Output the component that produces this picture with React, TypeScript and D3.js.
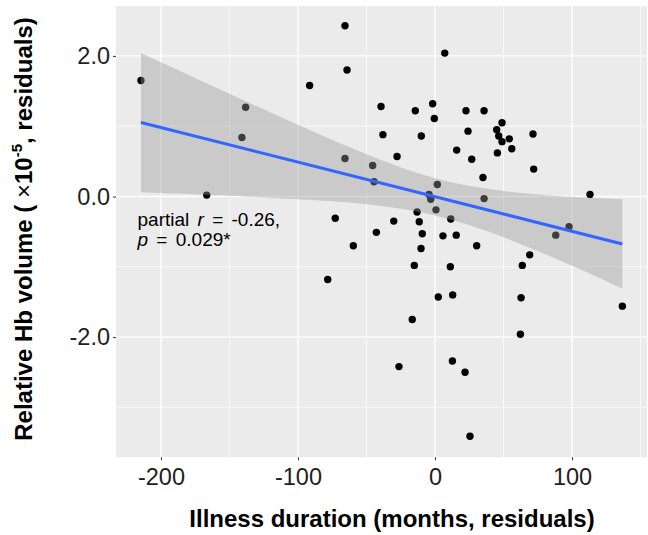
import React, { useEffect, useRef } from "react"
import * as d3 from "d3"

// illness duration residuals (months) and Hb volume residuals (x10^-5)
const durations = [
  -214.6, -138.2, -140.9, -166.6, -65.7, 7.1, -64.2, -91.5, -39.4, -14.4,
  -1.7, -0.5, -38.0, -10.0, 15.8, -65.7, -27.7, -45.5, -44.5, 1.7,
  -4.4, -3.1, -13.1, 0.7, 11.5, -72.8, -30.1, -11.5, -42.8, -9.3,
  5.8, 15.5, 22.6, 35.8, 48.9, 24.1, 45.0, 46.5, 48.9, 54.2,
  56.0, 45.5, 71.5, 26.8, 35.0, 72.0, 113.1, 35.8, 97.8, 88.1,
  -59.6, -10.2, -15.1, 11.2, -78.3, 2.4, 12.9, -16.6, 12.7, -26.3,
  30.4, 69.1, 63.7, 62.8, 136.7, 62.3, 21.9, 25.5,
]
const volumes = [
  1.65, 1.27, 0.84, 0.02, 2.43, 2.04, 1.8, 1.58, 1.28, 1.22,
  1.32, 1.11, 0.88, 0.86, 0.66, 0.54, 0.57, 0.44, 0.21, 0.17,
  0.03, -0.04, -0.22, -0.19, -0.32, -0.31, -0.35, -0.36, -0.51, -0.53,
  -0.56, -0.55, 1.22, 1.22, 1.05, 0.93, 0.95, 0.86, 0.78, 0.82,
  0.68, 0.62, 0.89, 0.53, 0.27, 0.39, 0.03, -0.03, -0.43, -0.55,
  -0.7, -0.74, -0.98, -1.0, -1.18, -1.43, -1.4, -1.75, -2.34, -2.42,
  -0.7, -0.83, -0.98, -1.44, -1.56, -1.96, -2.5, -3.41,
]

// fitted line and confidence band
const fitX = [-214.6, 136.7]
const fitY = [1.053, -0.675]
const bandX = [-214.6, -150, -100, -50, 0, 50, 100, 136.7]
const bandLower = [0.06, 0.01, -0.04, -0.11, -0.27, -0.58, -0.985, -1.31]
const bandUpper = [2.04, 1.46, 1.02, 0.6, 0.26, 0.08, -0.005, -0.04]

const xTicks = [-200, -100, 0, 100]
const xMinor = [-150, -50, 50, 150]
const yTicks = [-2, 0, 2]
const yMinor = [-3, -1, 1]

const FONT = "'Liberation Sans', Arial, sans-serif"

function App() {
  const ref = useRef<SVGSVGElement>(null)

  useEffect(() => {
    const w = 648
    const h = 535
    const left = 116
    const right = 647
    const top = 6
    const bottom = 457.3

    const svg = d3.select(ref.current)
    svg.selectAll("*").remove()
    svg.attr("width", w).attr("height", h)

    const x = d3.scaleLinear().domain([-232.8, 154.7]).range([left, right])
    const y = d3.scaleLinear().domain([-3.71, 2.71]).range([bottom, top])

    svg.append("rect")
      .attr("x", left).attr("y", top)
      .attr("width", right - left).attr("height", bottom - top)
      .attr("fill", "#EBEBEB")

    // grid
    const grid = svg.append("g")
    grid.selectAll(".xmin").data(xMinor).enter().append("line")
      .attr("x1", d => x(d)).attr("x2", d => x(d))
      .attr("y1", top).attr("y2", bottom)
      .attr("stroke", "#fff").attr("stroke-width", 0.7)
    grid.selectAll(".ymin").data(yMinor).enter().append("line")
      .attr("x1", left).attr("x2", right)
      .attr("y1", d => y(d)).attr("y2", d => y(d))
      .attr("stroke", "#fff").attr("stroke-width", 0.7)
    grid.selectAll(".xmaj").data(xTicks).enter().append("line")
      .attr("x1", d => x(d)).attr("x2", d => x(d))
      .attr("y1", top).attr("y2", bottom)
      .attr("stroke", "#fff").attr("stroke-width", 1.4)
    grid.selectAll(".ymaj").data(yTicks).enter().append("line")
      .attr("x1", left).attr("x2", right)
      .attr("y1", d => y(d)).attr("y2", d => y(d))
      .attr("stroke", "#fff").attr("stroke-width", 1.4)

    // points
    svg.append("g").selectAll("circle")
      .data(durations.map((d, i) => [d, volumes[i]]))
      .enter().append("circle")
      .attr("cx", d => x(d[0]))
      .attr("cy", d => y(d[1]))
      .attr("r", 3.7)
      .attr("fill", "#000")

    // confidence band
    const area = d3.area<number>()
      .x(d => x(d))
      .y0((d, i) => y(bandLower[i]))
      .y1((d, i) => y(bandUpper[i]))
      .curve(d3.curveNatural)
    svg.append("path")
      .datum(bandX)
      .attr("d", area)
      .attr("fill", "#999999")
      .attr("fill-opacity", 0.4)

    const line = d3.line<number>()
      .x(d => x(d))
      .y((d, i) => y(fitY[i]))
    svg.append("path")
      .datum(fitX)
      .attr("d", line)
      .attr("fill", "none")
      .attr("stroke", "#3366FF")
      .attr("stroke-width", 3)

    // axes (plain hyphen for negatives, like the original)
    const hyph = (f: (n: number) => string) => (d: d3.NumberValue) => f(+d).replace("\u2212", "-")

    const xAxis = svg.append("g")
      .attr("transform", `translate(0, ${bottom})`)
      .call(d3.axisBottom(x).tickValues(xTicks).tickSize(3).tickPadding(8).tickFormat(hyph(d3.format("d"))))
    xAxis.select(".domain").remove()
    xAxis.selectAll("line").attr("stroke", "#333")
    xAxis.selectAll("text")
      .attr("font-family", FONT).attr("font-size", 23.5).attr("fill", "#1e1e1e")

    const yAxis = svg.append("g")
      .attr("transform", `translate(${left}, 0)`)
      .call(d3.axisLeft(y).tickValues(yTicks).tickSize(3).tickPadding(3).tickFormat(hyph(d3.format(".1f"))))
    yAxis.select(".domain").remove()
    yAxis.selectAll("line").attr("stroke", "#333")
    yAxis.selectAll("text")
      .attr("font-family", FONT).attr("font-size", 23.5).attr("fill", "#1e1e1e")

    // titles
    svg.append("text")
      .attr("x", 392).attr("y", 527)
      .attr("text-anchor", "middle")
      .attr("font-family", FONT).attr("font-size", 24).attr("font-weight", "bold")
      .attr("fill", "#000")
      .text("Illness duration (months, residuals)")

    const yt = svg.append("text")
      .attr("transform", "translate(32, 229) rotate(-90)")
      .attr("text-anchor", "middle")
      .attr("font-family", FONT).attr("font-size", 24).attr("font-weight", "bold")
      .attr("fill", "#000")
    yt.append("tspan").text("Relative Hb volume ( ")
    yt.append("tspan").attr("font-weight", "normal").text("×")
    yt.append("tspan").text("10")
    yt.append("tspan").attr("font-size", 15).attr("dy", -10).text("-5")
    yt.append("tspan").attr("dy", 10).text(", residuals)")

    // annotation
    const ann = svg.append("g")
      .attr("font-family", FONT).attr("font-size", 19).attr("fill", "#000")
    const l1 = ann.append("text").attr("x", 137.5).attr("y", 226).attr("word-spacing", 3)
    l1.append("tspan").text("partial ")
    l1.append("tspan").attr("font-style", "italic").text("r")
    l1.append("tspan").text(" = -0.26,")
    const l2 = ann.append("text").attr("x", 137.5).attr("y", 245.5).attr("word-spacing", 3)
    l2.append("tspan").attr("font-style", "italic").text("p")
    l2.append("tspan").text(" = 0.029*")
  }, [])

  return (
    <svg ref={ref} style={{ position: "absolute", left: 0, top: 0, background: "#fff" }} />
  )
}

export default App
